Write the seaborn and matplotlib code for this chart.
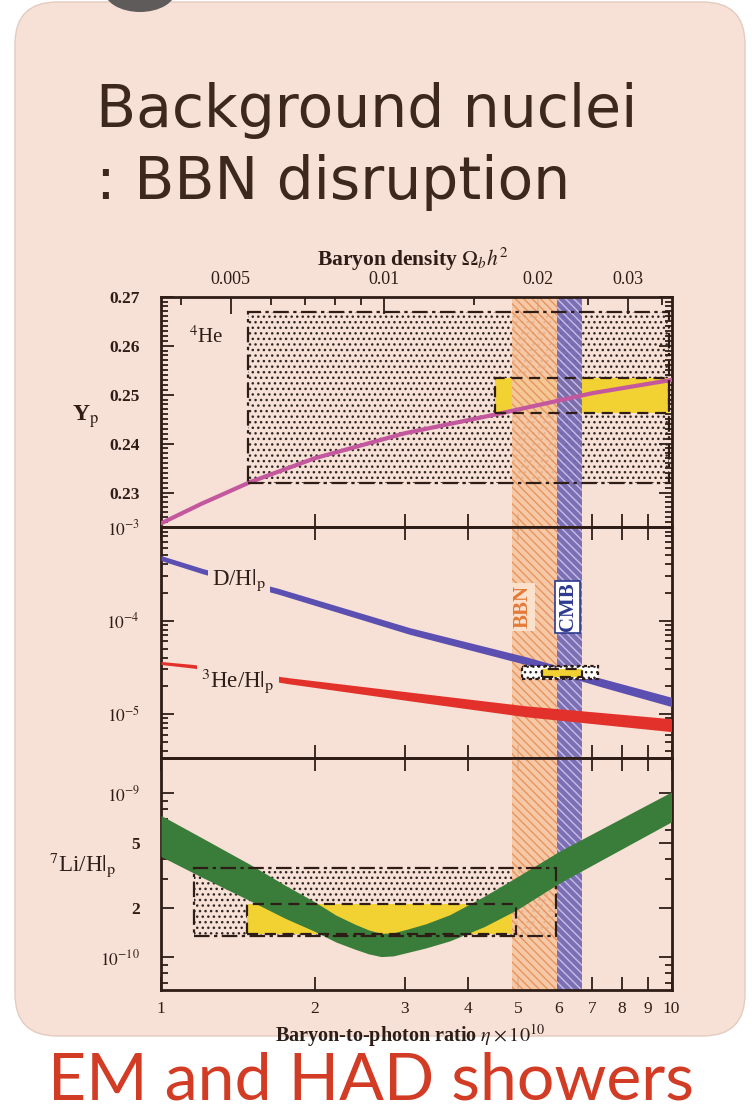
import numpy as np
import matplotlib
matplotlib.use("Agg")
import matplotlib.pyplot as plt
import seaborn as sns
from matplotlib.patches import Rectangle, FancyBboxPatch, Ellipse
from matplotlib.ticker import FixedLocator, FixedFormatter, NullLocator, NullFormatter, MultipleLocator

# ---------------- data ----------------
eta_yp = [1.0, 1.2, 1.5, 2.0, 3.0, 4.5, 7.0, 10.0]
yp = [0.2237, 0.2277, 0.2322, 0.2370, 0.2421, 0.2459, 0.2503, 0.2530]

eta_dh = [1.0, 1.21, 1.697, 3.07, 5.2, 7.24, 10.0]
dh_hi = [4.98e-4, 3.60e-4, 2.22e-4, 8.41e-5, 4.09e-5, 2.43e-5, 1.51e-5]
dh_lo = [4.40e-4, 3.16e-4, 1.92e-4, 7.13e-5, 3.37e-5, 1.97e-5, 1.20e-5]

eta_he3 = [1.0, 1.157, 1.775, 3.14, 5.2, 10.0]
he3_hi = [3.65e-5, 3.39e-5, 2.45e-5, 1.69e-5, 1.22e-5, 8.89e-6]
he3_lo = [3.39e-5, 3.10e-5, 2.11e-5, 1.36e-5, 9.31e-6, 6.47e-6]

eta_li = [1.0, 1.2, 1.5, 1.75, 2.0, 2.2, 2.4, 2.55, 2.7, 2.85, 3.0, 3.3, 3.68, 4.3, 4.98, 6.05, 10.0]
li_hi = [7.33e-10, 5.37e-10, 3.66e-10, 2.75e-10, 2.18e-10, 1.81e-10, 1.59e-10, 1.47e-10, 1.40e-10,
         1.41e-10, 1.47e-10, 1.60e-10, 1.82e-10, 2.36e-10, 3.09e-10, 4.46e-10, 1.02e-9]
li_lo = [4.12e-10, 3.09e-10, 2.20e-10, 1.73e-10, 1.44e-10, 1.24e-10, 1.12e-10, 1.05e-10, 1.01e-10,
         1.02e-10, 1.06e-10, 1.14e-10, 1.26e-10, 1.54e-10, 1.95e-10, 2.85e-10, 6.70e-10]

bbn_band = (4.86, 5.96)
cmb_band = (5.96, 6.67)

# observational boxes: (eta_min, eta_max, y_min, y_max)
yp_box_wide = (1.483, 9.9, 0.2319, 0.2669)
yp_box = (4.52, 9.9, 0.2462, 0.2533)
dh_box_wide = (5.09, 7.19, 2.39e-5, 3.24e-5)
dh_box = (5.57, 6.67, 2.49e-5, 3.06e-5)
li_box_wide = (1.162, 5.95, 1.34e-10, 3.49e-10)
li_box = (1.474, 4.95, 1.395e-10, 2.125e-10)

eta_ticks = [1, 2, 3, 4, 5, 6, 7, 8, 9, 10]
eta_labels = ["1", "2", "3", "4", "5", "6", "7", "8", "9", "10"]
om_ticks = [0.005, 0.01, 0.02, 0.03]
om_labels = ["0.005", "0.01", "0.02", "0.03"]
om_minor = [0.004, 0.006, 0.007, 0.008, 0.009, 0.015, 0.025, 0.035]
yp_ticks = [0.23, 0.24, 0.25, 0.26, 0.27]
yp_labels = ["0.23", "0.24", "0.25", "0.26", "0.27"]
dh_ticks = [1e-5, 1e-4, 1e-3]
dh_labels = [r"$10^{-5}$", r"$10^{-4}$", r"$10^{-3}$"]
li_ticks = [1e-10, 2e-10, 5e-10, 1e-9]
li_labels = [r"$10^{-10}$", "2", "5", r"$10^{-9}$"]
li_minor = [7e-11, 8e-11, 9e-11, 3e-10, 4e-10, 6e-10, 7e-10, 8e-10, 9e-10]

# ---------------- style ----------------
sns.set_theme(style="ticks")
plt.rcParams["font.family"] = ["Liberation Serif", "DejaVu Serif"]
plt.rcParams["mathtext.fontset"] = "stix"
plt.rcParams["hatch.linewidth"] = 1.0

DARK = "#2e1d17"
PEACH = "#f7e0d5"
W, H = 752, 1115

fig = plt.figure(figsize=(W / 100, H / 100), dpi=100, facecolor="white")


def fx(x):
    return x / W


def fy(y):
    return 1 - y / H


# slide background
bg = FancyBboxPatch((0.15, (H - 1036) / 100), 7.30, (1036 - 2) / 100,
                    boxstyle="round,pad=0,rounding_size=0.42",
                    transform=fig.dpi_scale_trans, facecolor=PEACH,
                    edgecolor="#e3cbc0", lw=1.0, zorder=0)
fig.add_artist(bg)
blob = Ellipse((1.40, (H + 10) / 100), 0.72, 0.44, transform=fig.dpi_scale_trans,
               facecolor="#5e5b5a", edgecolor="none", zorder=0.5)
fig.add_artist(blob)

# axes
L, R = 161, 671.5
bounds = [(296.7, 527.3), (527.3, 758.3), (758.3, 990.0)]
axes = []
for top, bot in bounds:
    ax = fig.add_axes([fx(L), fy(bot), (R - L) / W, (bot - top) / H])
    ax.set_facecolor("none")
    axes.append(ax)
ax1, ax2, ax3 = axes

for ax in axes:
    ax.set_xscale("log")
    ax.set_xlim(1, 10)
    ax.xaxis.set_major_locator(FixedLocator(eta_ticks))
    ax.xaxis.set_minor_locator(NullLocator())
    ax.xaxis.set_major_formatter(NullFormatter())
    for s in ax.spines.values():
        s.set_color(DARK)
        s.set_linewidth(2.0)
    ax.tick_params(which="both", direction="in", right=True, top=True,
                   color=DARK, width=1.3, labelcolor=DARK)
    ax.tick_params(which="major", length=9.5, pad=15)
    ax.tick_params(which="minor", length=5)
    # BBN / CMB bands
    ax.axvspan(*bbn_band, facecolor="#f5c7a2", edgecolor="#e88f55", hatch=r"\\\\",
               lw=0, alpha=0.9, zorder=2)
    ax.axvspan(*cmb_band, facecolor="#7669b3", edgecolor="#c9c2ea", hatch=r"\\\\",
               lw=0, alpha=0.95, zorder=2)
    ax.grid(False)


def obs_boxes(ax, wide, narrow, yellow_z=1.5, yellow_alpha=1.0, wide_face="none",
              wide_ls=(0, (7, 2, 1.5, 2)), border_z=4.0):
    x0, x1, y0, y1 = wide
    ax.add_patch(Rectangle((x0, y0), x1 - x0, y1 - y0, facecolor=wide_face,
                           edgecolor="#2f2624", hatch="...", lw=0, zorder=min(yellow_z, 1.0)))
    ax.add_patch(Rectangle((x0, y0), x1 - x0, y1 - y0, fill=False,
                           edgecolor=DARK, lw=1.6, ls=wide_ls, zorder=border_z))
    x0, x1, y0, y1 = narrow
    ax.add_patch(Rectangle((x0, y0), x1 - x0, y1 - y0, facecolor="#f2d232",
                           edgecolor="none", alpha=yellow_alpha, zorder=yellow_z))
    ax.add_patch(Rectangle((x0, y0), x1 - x0, y1 - y0, fill=False,
                           edgecolor=DARK, lw=1.6, ls=(0, (5, 3)), zorder=border_z + 0.5))


# ---- top panel: Yp ----
ax1.set_ylim(0.2229, 0.2700)
ax1.yaxis.set_major_locator(FixedLocator(yp_ticks))
ax1.yaxis.set_major_formatter(FixedFormatter(yp_labels))
ax1.yaxis.set_minor_locator(MultipleLocator(0.001))
ax1.tick_params(axis="x", top=False)
obs_boxes(ax1, yp_box_wide, yp_box, yellow_z=1.5)
sns.lineplot(x=eta_yp, y=yp, ax=ax1, color="#c4589e", lw=3.0, zorder=3)

sec = ax1.secondary_xaxis("top", functions=(lambda e: np.asarray(e) / 273.9,
                                            lambda o: np.asarray(o) * 273.9))
sec.xaxis.set_major_locator(FixedLocator(om_ticks))
sec.xaxis.set_major_formatter(FixedFormatter(om_labels))
sec.xaxis.set_minor_locator(FixedLocator(om_minor))
sec.xaxis.set_minor_formatter(NullFormatter())
sec.tick_params(which="both", direction="in", color=DARK, width=1.3, labelcolor=DARK,
                labelsize=13, pad=6)
sec.tick_params(which="major", length=12)
sec.tick_params(which="minor", length=6)
sec.spines["top"].set_visible(False)

# ---- middle panel: D/H, 3He/H ----
ax2.set_yscale("log")
ax2.set_ylim(3.35e-6, 1e-3)
ax2.yaxis.set_major_locator(FixedLocator(dh_ticks))
ax2.yaxis.set_major_formatter(FixedFormatter(dh_labels))
ax2.fill_between(eta_dh, dh_lo, dh_hi, color="#5b4fb1", lw=0, zorder=3)
ax2.fill_between(eta_he3, he3_lo, he3_hi, color="#e2312a", lw=0, zorder=3)
obs_boxes(ax2, dh_box_wide, dh_box, yellow_z=4.2, wide_face="white",
          wide_ls=(0, (1.5, 1.5)), border_z=4.3)
ax2.patches[-4].set_zorder(4.1)

# ---- bottom panel: 7Li/H ----
ax3.set_yscale("log")
ax3.set_ylim(6.32e-11, 1.634e-9)
ax3.yaxis.set_major_locator(FixedLocator(li_ticks))
ax3.yaxis.set_major_formatter(FixedFormatter(li_labels))
ax3.yaxis.set_minor_locator(FixedLocator(li_minor))
ax3.yaxis.set_minor_formatter(NullFormatter())
obs_boxes(ax3, li_box_wide, li_box)
ax3.fill_between(eta_li, li_lo, li_hi, color="#3a7d3a", lw=0, zorder=3)
ax3.xaxis.set_major_formatter(FixedFormatter(eta_labels))
ax3.tick_params(axis="x", which="major", pad=8, labelsize=12.5)

for ax in axes:
    for lab in ax.get_yticklabels():
        lab.set_fontweight("bold")
        lab.set_fontsize(12.5)

# ---------------- texts ----------------
t1 = fig.text(fx(96), fy(127), "Background nuclei", family="DejaVu Sans",
              fontsize=42, color="#3d281d", ha="left", va="baseline")
t2 = fig.text(fx(96), fy(199), ": BBN disruption", family="DejaVu Sans",
              fontsize=42, color="#3d281d", ha="left", va="baseline")
t3 = fig.text(fx(48), fy(1100), "EM and HAD showers", family="Lato",
              fontsize=46, color="#d23c25", ha="left", va="baseline")

fig.text(fx(413), fy(259), r"Baryon density $\Omega_b h^2$", fontsize=15.5,
         fontweight="bold", color=DARK, ha="center", va="center")
fig.text(fx(410), fy(1036), r"Baryon-to-photon ratio $\eta\times10^{10}$", fontsize=14.5,
         fontweight="bold", color=DARK, ha="center", va="center")

fig.text(fx(86), fy(417), r"Y$_{\rm p}$", fontsize=17, fontweight="bold",
         color=DARK, ha="center", va="center")
fig.text(fx(206), fy(337), r"$^{4}$He", fontsize=15, color=DARK, ha="center", va="center")
fig.text(fx(239), fy(580), r"D/H$\left.\right|_{\rm p}$", fontsize=16.5, color=DARK,
         ha="center", va="center",
         bbox=dict(facecolor=PEACH, edgecolor="none", pad=3))
fig.text(fx(238), fy(681), r"$^{3}$He/H$\left.\right|_{\rm p}$", fontsize=16.5, color=DARK,
         ha="center", va="center",
         bbox=dict(facecolor=PEACH, edgecolor="none", pad=3))
fig.text(fx(83), fy(865), r"$^{7}$Li/H$\left.\right|_{\rm p}$", fontsize=16.5, color=DARK,
         ha="center", va="center")
fig.text(fx(523), fy(607), "BBN", rotation=90, fontsize=15, fontweight="bold",
         color="#e57a3a", ha="center", va="center",
         bbox=dict(facecolor="#fbe0cb", edgecolor="none", pad=1.5))
fig.text(fx(567.5), fy(607), "CMB", rotation=90, fontsize=15, fontweight="bold",
         color="#2d3a8e", ha="center", va="center",
         bbox=dict(facecolor="white", edgecolor="#2d3a8e", lw=1.2, pad=1.5))

# fit the big slide texts to their measured widths
fig.canvas.draw()
rend = fig.canvas.get_renderer()
for t, target in [(t1, 542), (t2, 475), (t3, 647)]:
    w = t.get_window_extent(rend).width
    t.set_fontsize(t.get_fontsize() * target / w)

fig.savefig("out.png", dpi=100, facecolor="white")
